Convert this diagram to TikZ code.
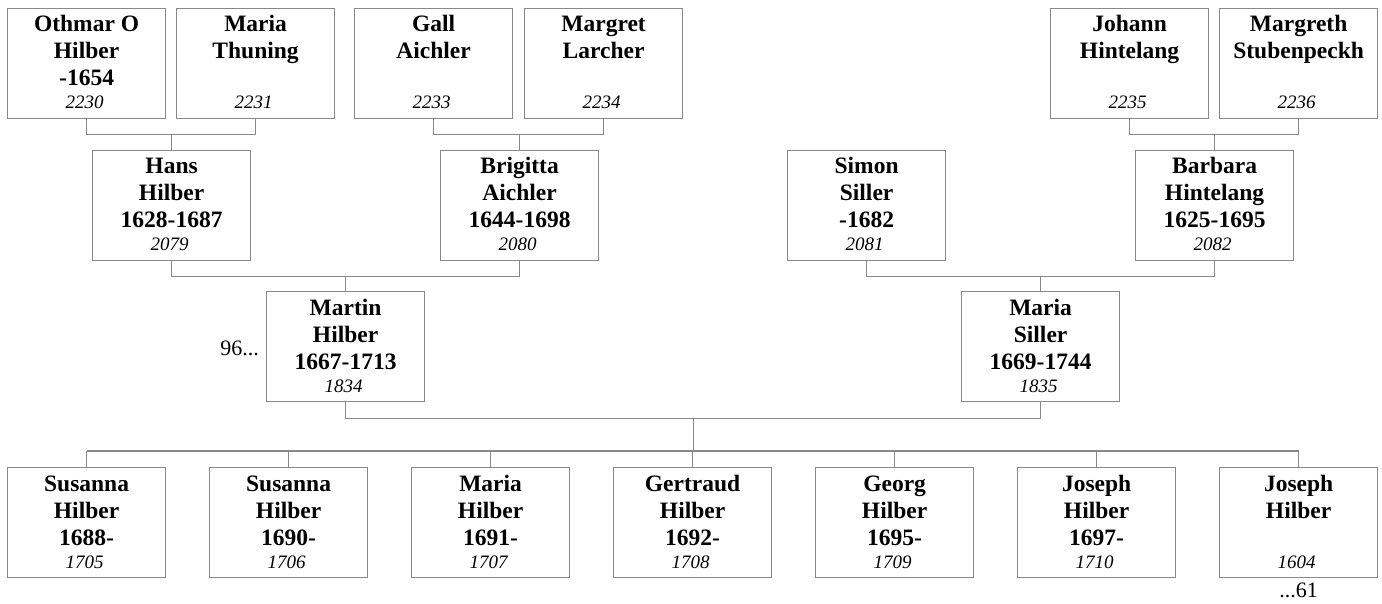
\documentclass[tikz,border=0pt]{standalone}
\usepackage{fontspec}
\setmainfont{Liberation Serif}
\usetikzlibrary{calc}
\definecolor{lc}{RGB}{136,136,136}
\tikzset{
  pbox/.style={draw=lc, line width=1.2pt, minimum width=158pt, minimum height=110pt, inner sep=0pt, anchor=north west},
  nm/.style={font=\fontsize{23.5}{27}\selectfont\bfseries, inner sep=0pt, anchor=base},
  num/.style={font=\fontsize{19}{21}\selectfont\itshape, inner sep=0pt, anchor=base},
  conn/.style={draw=lc, line width=1.2pt},
  note/.style={font=\fontsize{22}{24}\selectfont, inner sep=0pt},
}
\newcommand\person[7]{%
  \node[pbox] (#1) at (#2,#3) {};
  \node[nm] (#1-a) at ([yshift=-24pt]#1.north) {#4};
  \node[nm] (#1-b) at ([yshift=-51pt]#1.north) {#5};
  \node[nm] (#1-c) at ([yshift=-78pt]#1.north) {#6};
  \node[num] (#1-d) at ([xshift=-2pt,yshift=-101pt]#1.north) {#7};
}
\begin{document}
\begin{tikzpicture}[x=1pt,y=-1pt]
\useasboundingbox (0,0) rectangle (1382,604);
% top row
\person{othmar}{7}{8}{Othmar O}{Hilber}{-1654}{2230}
\person{mariat}{176}{8}{Maria}{Thuning}{}{2231}
\person{gall}{354}{8}{Gall}{Aichler}{}{2233}
\person{margret}{524}{8}{Margret}{Larcher}{}{2234}
\person{johann}{1050}{8}{Johann}{Hintelang}{}{2235}
\person{margreth}{1219}{8}{Margreth}{Stubenpeckh}{}{2236}
% second row
\person{hans}{92}{150}{Hans}{Hilber}{1628-1687}{2079}
\person{brigitta}{440}{150}{Brigitta}{Aichler}{1644-1698}{2080}
\person{simon}{787}{150}{Simon}{Siller}{-1682}{2081}
\person{barbara}{1135}{150}{Barbara}{Hintelang}{1625-1695}{2082}
% third row
\person{martin}{266}{291}{Martin}{Hilber}{1667-1713}{1834}
\person{msiller}{961}{291}{Maria}{Siller}{1669-1744}{1835}
% children
\person{c1}{7}{467}{Susanna}{Hilber}{1688-}{1705}
\person{c2}{209}{467}{Susanna}{Hilber}{1690-}{1706}
\person{c3}{411}{467}{Maria}{Hilber}{1691-}{1707}
\person{c4}{613}{467}{Gertraud}{Hilber}{1692-}{1708}
\person{c5}{815}{467}{Georg}{Hilber}{1695-}{1709}
\person{c6}{1017}{467}{Joseph}{Hilber}{1697-}{1710}
\person{c7}{1219}{467}{Joseph}{Hilber}{}{1604}
% notes
\node[note, anchor=base east] (n96) at ([xshift=-7pt]martin.west |- 0,355) {96...};
\node[note, anchor=base] (n61) at (c7.south |- 0,597) {...61};
% parent connectors
\foreach \a/\b/\c in {othmar/mariat/hans, gall/margret/brigitta, johann/margreth/barbara, hans/brigitta/martin, simon/barbara/msiller}{
  \coordinate (\c-pa) at ([yshift=-15.5pt]\a.south);
  \draw[conn] (\a.south) -- (\c-pa) -| (\b.south);
  \draw[conn] (\c.north) -- (\c.north |- \c-pa);
}
% marriage and children
\coordinate (ma) at ([yshift=-16pt]martin.south);
\draw[conn] (martin.south) -- (ma) -| (msiller.south);
\coordinate (mb) at ([yshift=-16pt]msiller.south);
\coordinate (mm) at ($(ma)!0.5!(mb)$);
\coordinate (k1) at ([yshift=16pt]c1.north);
\coordinate (k7) at ([yshift=16pt]c7.north);
\draw[conn] (mm) -- (mm |- k1);
\draw[conn] (k1) -- (k7);
\foreach \c in {c1,c2,c3,c4,c5,c6,c7}{
  \draw[conn] (\c.north) -- (\c.north |- k1);
}
\end{tikzpicture}
\end{document}
